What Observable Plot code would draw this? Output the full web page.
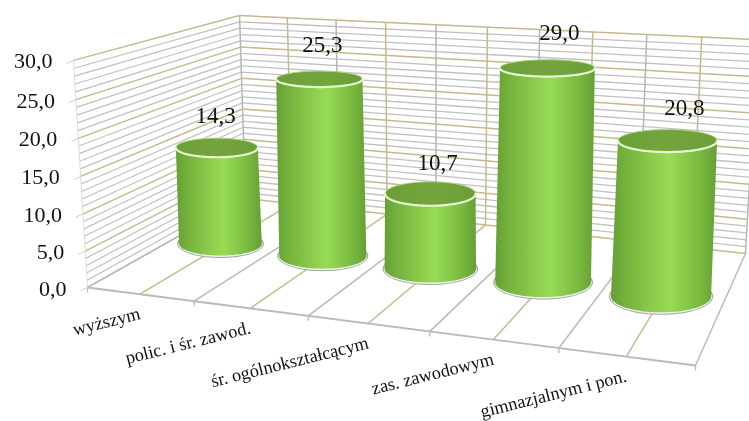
<!DOCTYPE html>
<html>
<head>
<meta charset="utf-8">
<style>html,body{margin:0;padding:0;background:#fff;overflow:hidden}svg{display:block;filter:blur(0.3px)}</style>
<script src="https://cdn.jsdelivr.net/npm/d3@7"></script>
<script src="https://cdn.jsdelivr.net/npm/@observablehq/plot@0.6"></script>
</head>
<body>
<div id="chart"></div>
<script>
const categories = ["wyższym", "polic. i śr. zawod.", "śr. ogólnokształcącym", "zas. zawodowym", "gimnazjalnym i pon."];
const values = [14.3, 25.3, 10.7, 29.0, 20.8];
const valueTicks = [0, 5, 10, 15, 20, 25, 30];
const minorTicks = d3.range(0, 31).filter(d => d % 5 !== 0);
const valueMax = 30;
const fmt = d => d.toFixed(1).replace(".", ",");

// Perspective box of the 3D chart
const n = categories.length;
const warp = (u, k) => { const t = u / n; return t * (1 - k) + t * t * k; };
const lerp = (a, b, t) => a + (b - a) * t;
const frontL = [87, 287], frontR = [695, 365], backL = [245, 198], backR = [745, 253];
const VANISH_X = 430, VANISH_Y = 5850;
function P(cat, depth, val) {
  const tf = warp(cat, 0.154), tb = warp(cat, 0.08);
  const fx = lerp(frontL[0], frontR[0], tf), fy = lerp(frontL[1], frontR[1], tf);
  const bx = lerp(backL[0], backR[0], tb), by = lerp(backL[1], backR[1], tb);
  const x = lerp(fx, bx, depth), y = lerp(fy, by, depth);
  const s = lerp(lerp(7.57, 8.3, tf), lerp(6.1, 7.13, tb), depth);
  const h = s * val * (1 + 0.0015 * (val - 15)) / 1.0225;
  return [x + (x - VANISH_X) * h / (VANISH_Y - y), y - h];
}
const seg = (a, b) => ({x1: a[0], y1: a[1], x2: b[0], y2: b[1]});

const GREY = "#c0c0c3", GOLD = "#c6b88a", FLOOR_GREY = "#bababa";

const backMinor = minorTicks.map(v => seg(P(0, 1, v), P(n, 1, v)));
const sideMinor = minorTicks.map(v => seg(P(0, 0, v), P(0, 1, v)));
const backMajor = valueTicks.map(v => seg(P(0, 1, v), P(n, 1, v)));
const sideMajor = valueTicks.map(v => seg(P(0, 0, v), P(0, 1, v)));
const halves = d3.range(0, n + 0.5, 0.5);
const isBoundary = u => Number.isInteger(u);
const backVert = halves.map(u => ({...seg(P(u, 1, 0), P(u, 1, valueMax)), b: isBoundary(u)}));
const floorDepth = halves.map(u => ({...seg(P(u, 0, 0), P(u, 1, 0)), b: isBoundary(u)}));
const frontEdge = [seg(P(0, 0, 0), P(n, 0, 0))];
const catTicks = d3.range(0, n + 1).map(u => {
  const a = P(u, 0, 0);
  return seg(a, [a[0], a[1] + 5]);
});
const valTicks = valueTicks.map(v => {
  const a = P(0, 0, v);
  return seg(a, [a[0] - 7, a[1] + 3]);
});
const yLabels = valueTicks.map(v => {
  const a = P(0, 0, v);
  return {x: a[0] - 21, y: a[1] + 1, t: fmt(v)};
});

// Cylinders
const DEPTH = 0.53, RAD = 0.415, LIFT = 2.5;
const tilt = y => 0.13 + 0.0007 * y;
const ellipse = (c, rx, ry, from = 0, to = 2 * Math.PI) =>
  d3.range(0, 73).map(i => {
    const t = from + (to - from) * i / 72;
    return {x: c[0] + rx * Math.cos(t), y: c[1] + ry * Math.sin(t)};
  });
const raised = p => [p[0], p[1] - LIFT];
const cyl = values.map((v, i) => {
  const base = raised(P(i + 0.5, DEPTH, 0)), top = raised(P(i + 0.5, DEPTH, v));
  const rb = RAD * (P(i + 1, DEPTH, 0)[0] - P(i, DEPTH, 0)[0]);
  const rt = rb * 0.99;
  const ryb = rb * tilt(base[1]) * 0.95, ryt = rt * tilt(top[1]);
  const body = [...ellipse(top, rt, ryt, Math.PI, 2 * Math.PI), ...ellipse(base, rb, ryb, 0, Math.PI)];
  return {i, v, base, top, rb, rt, ryb, ryt, body};
});
const flatten = f => cyl.flatMap(c => f(c).map(p => ({...p, id: c.i})));
const poly = (pts, o) => Plot.line(pts, {x: "x", y: "y", z: "id", ...o});

const catLabels = categories.map((t, i) => {
  const a = P(i + 0.5, 0, 0);
  return {x: a[0], y: a[1] + 19, t};
});
const valLabels = cyl.map(c => ({
  x: c.top[0] + 0.04 * (c.top[0] - 320) + 3,
  y: c.top[1] - 28 - 0.25 * c.v,
  t: fmt(c.v)
}));

const link = (d, o) => Plot.link(d, {x1: "x1", y1: "y1", x2: "x2", y2: "y2", ...o});
const FONT = "Liberation Serif";

const defs = () => d3.create("svg:defs").html(`
  <linearGradient id="body" x1="0" x2="1" y1="0" y2="0">
    <stop offset="0" stop-color="#64a034"/>
    <stop offset="0.12" stop-color="#74b03c"/>
    <stop offset="0.55" stop-color="#98dc55"/>
    <stop offset="0.85" stop-color="#78b83f"/>
    <stop offset="1" stop-color="#659f35"/>
  </linearGradient>
  <linearGradient id="cap" x1="0" x2="1" y1="0" y2="0">
    <stop offset="0" stop-color="#6c9f38"/>
    <stop offset="0.5" stop-color="#74a53d"/>
    <stop offset="1" stop-color="#6c9e38"/>
  </linearGradient>`).node();

const chart = Plot.plot({
  width: 749, height: 421, margin: 0,
  style: {background: "#fff"},
  x: {domain: [0, 749], range: [0, 749], axis: null},
  y: {domain: [0, 421], range: [0, 421], axis: null},
  marks: [
    defs,
    link(sideMinor, {stroke: GREY, strokeWidth: 1.2}),
    link(backMinor, {stroke: GREY, strokeWidth: 1.3}),
    link(sideMajor, {stroke: GOLD, strokeWidth: 1.4}),
    link(backMajor, {stroke: GOLD, strokeWidth: 1.5}),
    link(backVert.filter(d => d.b), {stroke: "#b6b6ba", strokeWidth: 1.5}),
    link(backVert.filter(d => !d.b), {stroke: GOLD, strokeWidth: 1.5}),
    link([seg(P(0, 0, 0), P(0, 0, valueMax))], {stroke: "#dcdcdc", strokeWidth: 1}),
    link(floorDepth.filter(d => d.b), {stroke: FLOOR_GREY, strokeWidth: 1.5}),
    link(floorDepth.filter(d => !d.b), {stroke: GOLD, strokeWidth: 1.4}),
    link(frontEdge, {stroke: FLOOR_GREY, strokeWidth: 1.8}),
    link(catTicks, {stroke: FLOOR_GREY, strokeWidth: 1.4}),
    link(valTicks, {stroke: "#d0d0d0", strokeWidth: 1}),
    // base shadow ring
    poly(flatten(c => ellipse(c.base, c.rb + 2, c.ryb + 2.5)), {fill: "#a3a6a3", stroke: "none"}),
    poly(flatten(c => ellipse([c.base[0], c.base[1] + 0.5], c.rb + 0.8, c.ryb + 1)), {fill: "#eef2ea", stroke: "none"}),
    // bodies
    poly(flatten(c => c.body), {fill: "url(#body)", stroke: "none"}),
    // caps
    poly(flatten(c => ellipse(c.top, c.rt, c.ryt)), {fill: "url(#cap)", stroke: "none"}),
    poly(flatten(c => ellipse(c.top, c.rt, c.ryt, Math.PI, 2 * Math.PI)), {stroke: "#b7d98f", strokeWidth: 1}),
    poly(flatten(c => ellipse(c.top, c.rt, c.ryt, 0, Math.PI)), {stroke: "#e6f6d2", strokeWidth: 2.2}),
    // labels
    Plot.text(yLabels, {x: "x", y: "y", text: "t", textAnchor: "end", fontSize: 22, fontFamily: FONT, fill: "#111"}),
    Plot.text(valLabels, {x: "x", y: "y", text: "t", fontSize: 23, fontFamily: FONT, fill: "#111"}),
    Plot.text(catLabels, {x: "x", y: "y", text: "t", textAnchor: "end", rotate: -14, fontSize: 18.2, fontFamily: FONT, fill: "#111"})
  ]
});
document.getElementById("chart").append(chart);
</script>
</body>
</html>
